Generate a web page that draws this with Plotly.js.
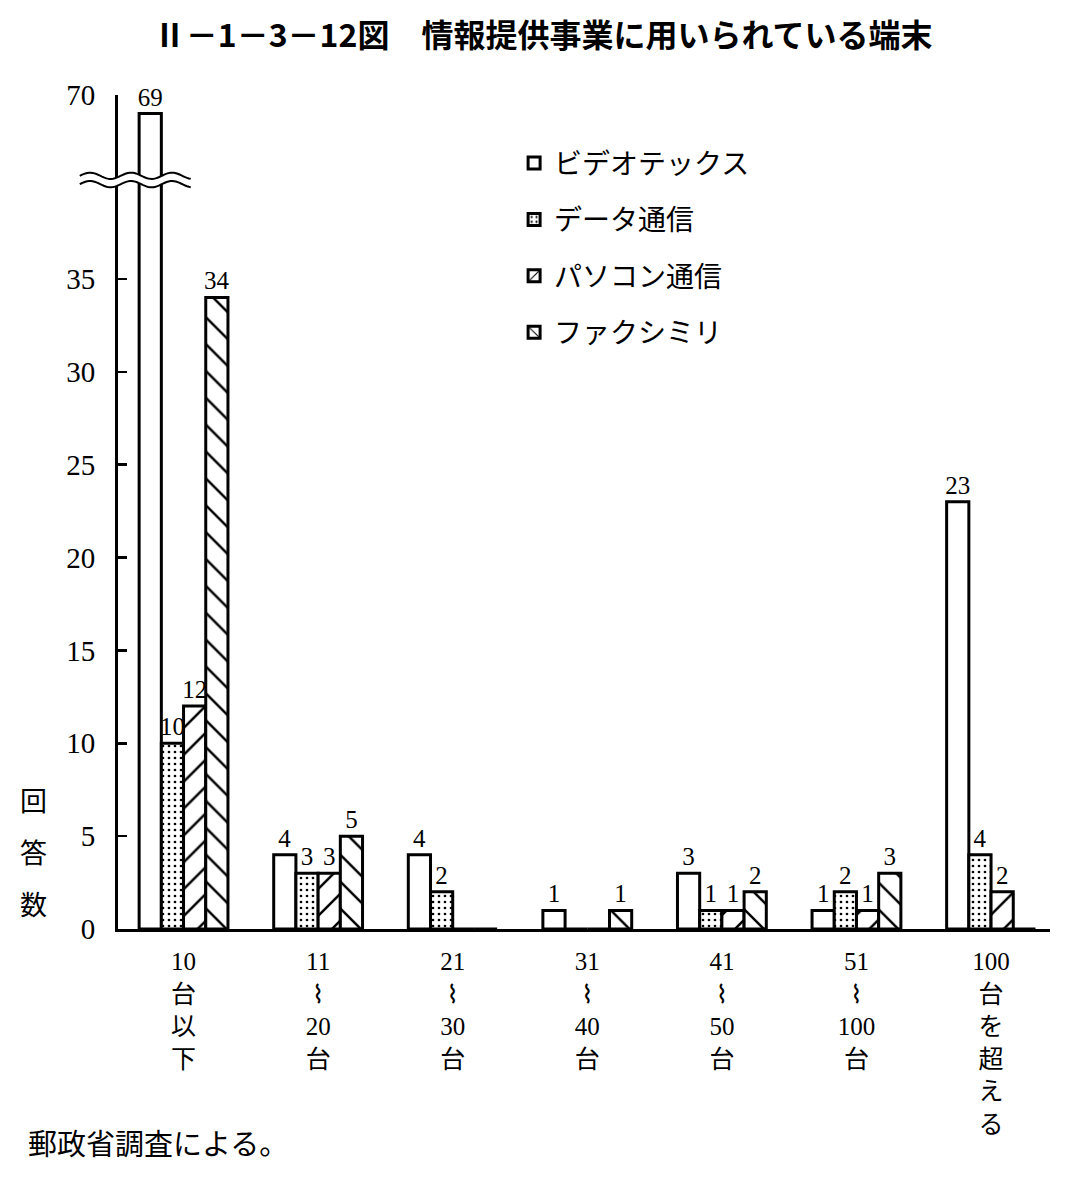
<!DOCTYPE html>
<html>
<head>
<meta charset="utf-8">
<script src="https://cdn.plot.ly/plotly-3.0.1.min.js"></script>
<style>html,body{margin:0;padding:0;background:#fff;}#chart{width:1065px;height:1177px;}</style>
</head>
<body>
<div id="chart"></div>
<script>
// ---- data ----
const categories = ['10台以下', '11～20台', '21～30台', '31～40台', '41～50台', '51～100台', '100台を超える'];
const tickLabels = [
  '10<br>台<br>以<br>下',
  '11<br>⌇<br>20<br>台',
  '21<br>⌇<br>30<br>台',
  '31<br>⌇<br>40<br>台',
  '41<br>⌇<br>50<br>台',
  '51<br>⌇<br>100<br>台',
  '100<br>台<br>を<br>超<br>え<br>る'
];
const seriesNames = ['ビデオテックス', 'データ通信', 'パソコン通信', 'ファクシミリ'];
const videotex  = [69, 4, 4, 1, 3, 1, 23];
const dataComm  = [10, 3, 2, 0, 1, 2, 4];
const pcComm    = [12, 3, 0, 0, 1, 1, 2];
const facsimile = [34, 5, 0, 1, 2, 3, 0];
const yTickValues = [0, 5, 10, 15, 20, 25, 30, 35, 70];
const yTitleChars = ['回', '答', '数'];
const titleText = 'Ⅱ－1－3－12図　情報提供事業に用いられている端末';
const sourceText = '郵政省調査による。';

// ---- broken y scale (values above the break are shifted down) ----
const BREAK_AT = 40.3;
const SHIFT = 25.1;
const toAxis = v => (v > BREAK_AT ? v - SHIFT : v);

const series = [videotex, dataComm, pcComm, facsimile];
const patterns = [
  {shape: ''},
  {shape: '.', size: 6, solidity: 0.16},
  {shape: '/', size: 19, solidity: 0.13},
  {shape: '\\', size: 19, solidity: 0.13}
];

const traces = series.map((vals, i) => ({
  type: 'bar',
  name: seriesNames[i],
  legendgroup: 'g' + i,
  x: categories,
  y: vals.map(toAxis),
  text: vals.map(v => (v > 0 ? String(v) : '')),
  textposition: 'outside',
  constraintext: 'none',
  cliponaxis: false,
  textfont: {family: '"Liberation Serif", serif', size: 25, color: '#000'},
  marker: {
    color: '#fff',
    line: {color: '#000', width: 3},
    pattern: Object.assign({fgcolor: '#000', bgcolor: '#fff', fillmode: 'replace'}, patterns[i])
  },
  hoverinfo: 'skip'
}));

// ---- break decoration (wavy band) ----
function wave(x0, x1, yc, amp, wl, reverse) {
  const pts = [];
  const n = 60;
  for (let k = 0; k <= n; k++) {
    const x = x0 + (x1 - x0) * k / n;
    const y = yc + amp * Math.sin(2 * Math.PI * (x - x0) / wl);
    pts.push([x, y]);
  }
  if (reverse) pts.reverse();
  return pts;
}
const WX0 = -0.041, WX1 = 0.078, WL = 0.044, AMP = 0.17;
const upper = wave(WX0, WX1, 40.55, AMP, WL, false);
const lower = wave(WX0, WX1, 40.1, AMP, WL, true);
const toPath = pts => pts.map((p, k) => (k ? 'L' : 'M') + p[0].toFixed(5) + ',' + p[1].toFixed(4)).join(' ');
const bandPath = toPath(upper) + ' ' + toPath(lower).replace(/^M/, 'L') + ' Z';

const shapes = [
  {type: 'path', xref: 'paper', yref: 'y', path: bandPath, fillcolor: '#fff', line: {width: 0}, layer: 'above'},
  {type: 'path', xref: 'paper', yref: 'y', path: toPath(upper), line: {color: '#000', width: 2}, layer: 'above'},
  {type: 'path', xref: 'paper', yref: 'y', path: toPath(lower.slice().reverse()), line: {color: '#000', width: 2}, layer: 'above'}
];

const annotations = yTitleChars.map((c, i) => ({
  text: c, xref: 'paper', yref: 'paper', x: -0.091, y: 0.155 - i * 0.0625,
  xanchor: 'center', yanchor: 'middle', showarrow: false,
  font: {size: 27, color: '#000'}
}));
annotations.push({
  text: sourceText, xref: 'paper', yref: 'paper', x: -0.099, y: -0.255,
  xanchor: 'left', yanchor: 'middle', showarrow: false,
  font: {size: 29, color: '#000'}
});

const layout = {
  width: 1065, height: 1177,
  margin: {l: 118, r: 15, t: 95, b: 248},
  paper_bgcolor: '#fff', plot_bgcolor: '#fff',
  font: {family: '"Noto Sans CJK JP", sans-serif', color: '#000'},
  title: {
    text: titleText, x: 0.51, xanchor: 'center', y: 1 - 36 / 1177, yref: 'container', yanchor: 'middle',
    font: {size: 32, weight: 'bold', color: '#000'}
  },
  barmode: 'group', bargap: 0.34, bargroupgap: 0,
  showlegend: true,
  legend: {
    x: 0.425, y: 0.948, xanchor: 'left', yanchor: 'top',
    font: {size: 28, color: '#000'}, tracegroupgap: 17, bgcolor: 'rgba(0,0,0,0)', traceorder: 'grouped'
  },
  xaxis: {
    type: 'category', categoryarray: categories, range: [-0.487, 6.438],
    tickvals: categories, ticktext: tickLabels,
    showline: true, linecolor: '#000', linewidth: 3, ticks: '', showgrid: false, zeroline: false,
    tickfont: {family: '"Liberation Serif", "DejaVu Sans", "Noto Sans CJK JP", serif', size: 25, color: '#000'},
    ticklabelstandoff: 8, fixedrange: true
  },
  yaxis: {
    range: [0, toAxis(70)],
    tickvals: yTickValues.map(toAxis), ticktext: yTickValues.map(String),
    showline: true, linecolor: '#000', linewidth: 3, ticks: 'inside', ticklen: 9, tickwidth: 2.5, tickcolor: '#000',
    showgrid: false, zeroline: false,
    tickfont: {family: '"Liberation Serif", serif', size: 29, color: '#000'},
    ticklabelstandoff: 14, fixedrange: true
  },
  shapes: shapes,
  annotations: annotations
};

Plotly.newPlot('chart', traces, layout, {staticPlot: true, displayModeBar: false});
</script>
</body>
</html>
